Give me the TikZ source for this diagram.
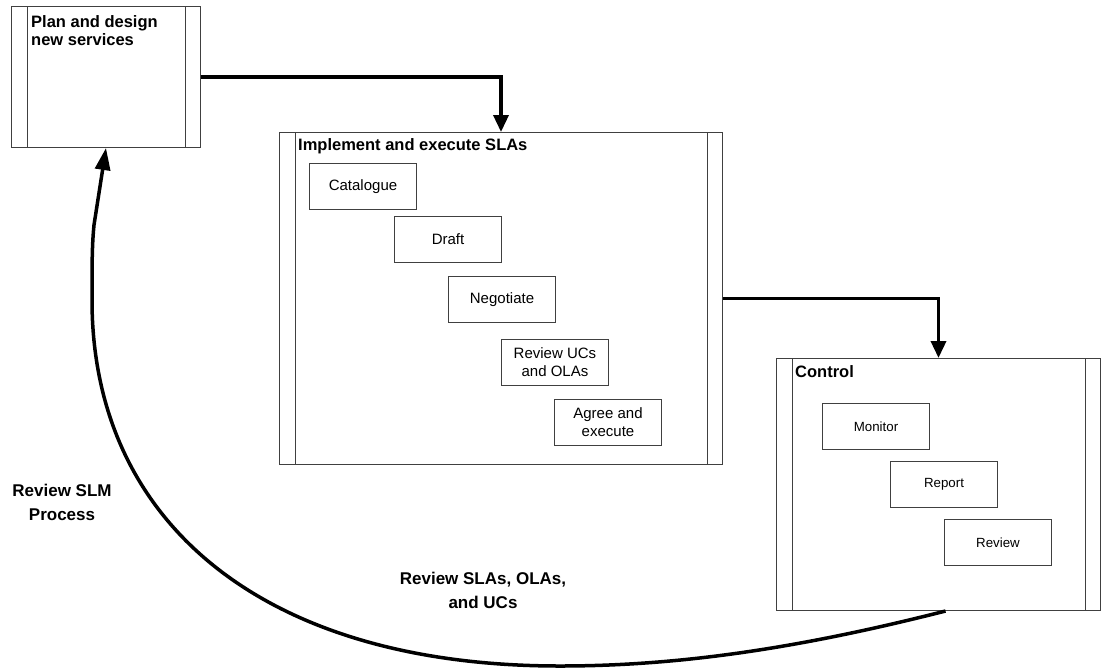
\documentclass[tikz,border=0pt]{standalone}
\usepackage{fontspec}
\setmainfont{Liberation Sans}
\usetikzlibrary{arrows.meta}
\begin{document}
\begin{tikzpicture}[x=1pt,y=-1pt,
  boxline/.style={draw=black!75, line width=1pt},
  lane/.style={boxline, fill=white, rectangle, inner sep=0pt, anchor=north west,
    path picture={
      \draw[boxline] ([xshift=15.5pt]path picture bounding box.north west) -- ([xshift=15.5pt]path picture bounding box.south west);
      \draw[boxline] ([xshift=-15.5pt]path picture bounding box.north east) -- ([xshift=-15.5pt]path picture bounding box.south east);
    }},
  lanetitle/.style={inner sep=0pt, font=\fontsize{16.5}{18}\selectfont\bfseries},
  stepbox/.style={boxline, fill=white, rectangle, inner sep=0pt, anchor=north west,
    minimum width=107pt, minimum height=46pt, align=center,
    font=\fontsize{15}{18}\selectfont},
  smallbox/.style={stepbox, font=\fontsize{13.3}{16}\selectfont},
  note/.style={inner sep=0pt, align=center, font=\fontsize{17}{24}\selectfont\bfseries},
  flow/.style={draw=black, line width=3.5pt, -{Triangle[length=17pt,width=15pt]}},
]
\useasboundingbox (0,0) rectangle (1116,670);

% swim-lane style process boxes
\node[lane, minimum width=189pt, minimum height=141pt] (plan) at (11,6) {};
\node[lane, minimum width=443pt, minimum height=332pt] (impl) at (279,132) {};
\node[lane, minimum width=324pt, minimum height=252pt] (ctrl) at (776,358) {};

% process titles
\node[lanetitle, anchor=north west, align=left] (planT) at (31,15) {Plan and design\\new services};
\node[lanetitle, anchor=base west] (implT) at (298,150) {Implement and execute SLAs};
\node[lanetitle, anchor=base west] (ctrlT) at (795,377) {Control};

% steps of implementing SLAs
\node[stepbox] (cat) at (309,163) {Catalogue};
\node[stepbox] (draft) at (394,216) {Draft};
\node[stepbox] (neg) at (448,276) {Negotiate};
\node[stepbox] (ruc) at (501,339) {Review UCs\\and OLAs};
\node[stepbox] (agree) at (554,399) {Agree and\\execute};

% steps of control
\node[smallbox] (mon) at (822,403) {Monitor};
\node[smallbox] (rep) at (890,461) {Report};
\node[smallbox] (rev) at (944,519) {Review};

% flow between processes
\draw[flow] (plan.east) -| (impl.north);
\draw[flow] (impl.east) -| (ctrl.north);

% feedback loop back to planning
\coordinate (loopstart) at ([xshift=7pt]ctrl.south);
\draw[flow, -{Triangle[length=22pt,width=15pt]}] (loopstart)
  .. controls (800,648) and (680,666) .. (560,666)
  .. controls (260,666) and (92,520) .. (92,300)
  .. controls (92,265) and (92,245) .. (94,225) -- (plan.south);

% loop annotations
\node[note, anchor=north] (slm) at (62,484) {Review SLM\\Process};
\node[note, anchor=north] (rsla) at (483,572) {Review SLAs, OLAs,\\and UCs};
\end{tikzpicture}
\end{document}
